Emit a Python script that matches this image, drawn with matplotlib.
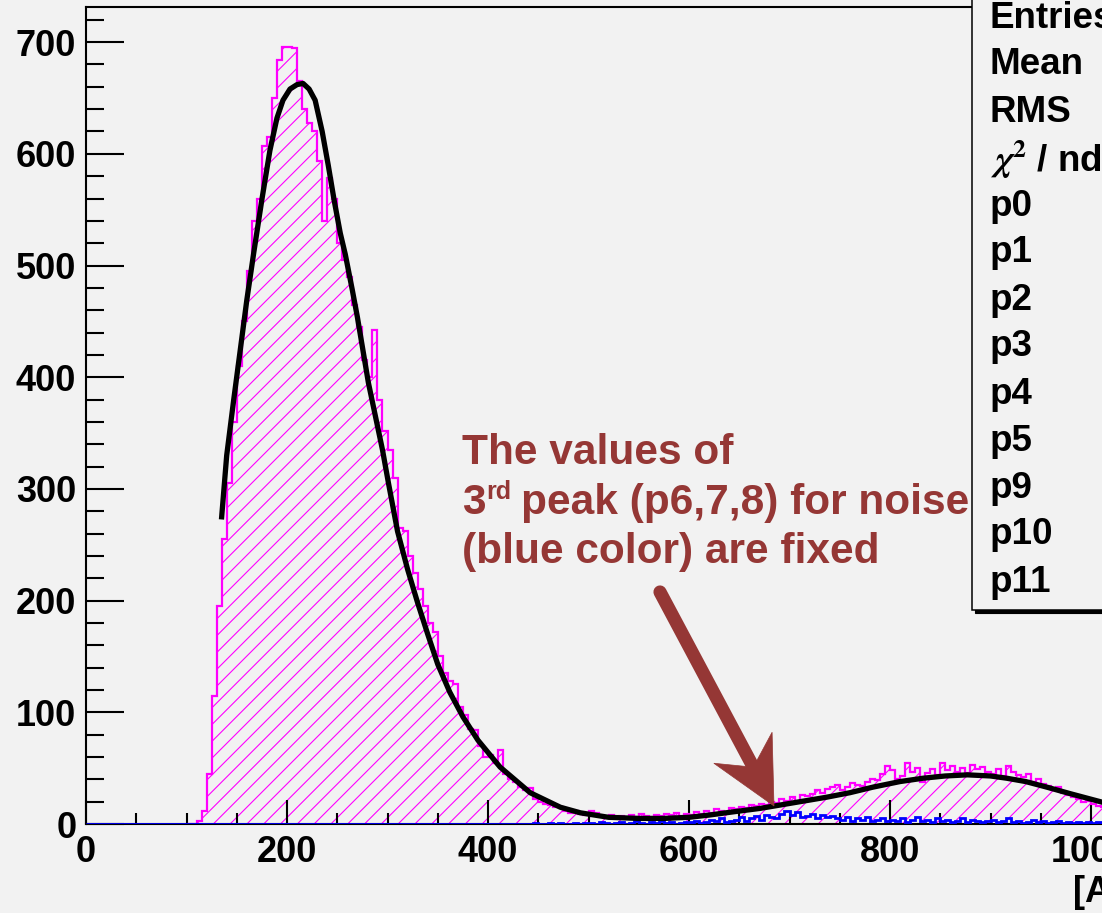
import numpy as np
import matplotlib
matplotlib.use('Agg')
import matplotlib.pyplot as plt
from matplotlib.patches import Rectangle, Polygon
from matplotlib.lines import Line2D
from matplotlib.ticker import MultipleLocator
from matplotlib.transforms import IdentityTransform

# ---- data ----
# signal histogram (magenta), 5 ADC wide bins starting at 100
sig_start = 100
sig_width = 5
sig_counts = [
    0, 0, 3, 12, 45, 115, 195, 255, 305, 360,        # 100-145
    410, 450, 495, 540, 560, 607, 615, 650, 684, 696,  # 150-195
    696, 695, 665, 640, 628, 620, 594, 540, 578, 560,  # 200-245
    520, 505, 490, 465, 445, 415, 400, 442, 380, 352,  # 250-295
    335, 310, 265, 262, 240, 225, 210, 195, 180, 172,  # 300-345
    150, 135, 128, 125, 105, 98, 85, 84, 70, 60,       # 350-395
    62, 55, 66, 45, 40, 38, 33, 30, 32, 22,            # 400-445
    20, 18, 17, 15, 15, 12, 10, 12, 9, 8,              # 450-495
    12, 10, 7, 6, 8, 6, 7, 5, 8, 6,                    # 500-545
    9, 7, 6, 8, 7, 9, 8, 10, 7, 9,                     # 550-595
    8, 11, 9, 12, 10, 13, 12, 11, 14, 13,              # 600-645
    15, 14, 17, 16, 18, 17, 20, 19, 22, 21,            # 650-695
    24, 20, 26, 25, 27, 30, 28, 31, 33, 35,            # 700-745
    30, 33, 37, 35, 34, 38, 40, 39, 45, 52,            # 750-795
    48, 40, 43, 55, 47, 50, 38, 46, 49, 44,            # 800-845
    55, 48, 52, 47, 50, 46, 53, 49, 51, 47,            # 850-895
    45, 49, 43, 52, 47, 44, 42, 45, 38, 40,            # 900-945
    36, 34, 30, 33, 28, 26, 24, 22, 20, 21,            # 950-995
    18, 16, 15, 14,                                    # 1000-1015
]

# noise histogram (blue), 5 ADC wide bins starting at 0
noise_start = 0
noise_width = 5
noise_counts = [0] * 88 + [
    0, 1, 0, 0, 1, 0, 1, 0, 0, 1, 0, 1,                            # 440-495
    1, 0, 2, 1, 0, 1, 2, 0, 1, 3, 1, 0, 2, 1, 3, 1, 2, 0, 1, 2,    # 500-595
    2, 3, 1, 2, 4, 3, 5, 2, 3, 4, 6, 3, 5, 7, 4, 8, 6, 5, 9, 12,   # 600-695
    8, 11, 6, 7, 9, 5, 8, 6, 7, 5, 4, 6, 3, 5, 4, 6, 3, 4, 5, 3,   # 700-795
    4, 3, 5, 2, 4, 6, 3, 4, 2, 5, 3, 4, 2, 3, 5, 2, 4, 3, 2, 3,    # 800-895
    4, 2, 3, 5, 2, 3, 1, 2, 4, 2, 3, 1, 2, 3, 1, 2, 1, 2, 1, 2,    # 900-995
    1, 2, 1, 1, 2, 1, 0, 1, 2, 1, 1, 0, 1, 1, 2, 1, 0, 1, 1, 0,    # 1000-1095
]

# fitted function (black)
fit_x = [135, 140, 147, 153, 160, 167, 175, 183, 190, 196, 203, 210, 216, 222,
         228, 235, 241, 247, 253, 258, 265, 270, 281, 295, 301, 310, 320, 330,
         340, 350, 362, 375, 390, 412, 442, 472, 492, 520, 550, 575, 600, 620,
         645, 671, 704, 737, 760, 783, 810, 833, 855, 877, 900, 916, 935, 956,
         980, 1005, 1030]
fit_y = [275, 330, 380, 421, 469, 512, 559, 603, 632, 648, 658, 662, 663, 658,
         648, 620, 590, 558, 529, 510, 478, 454, 395, 335, 305, 262, 228, 198,
         170, 143, 118, 96, 75, 51, 28, 15, 10, 6, 5, 5, 6, 8,
         11, 14, 19, 24, 28, 33, 38, 41, 43, 44, 43, 41, 38, 33,
         27, 21, 15]

stat_labels = ['Entries', 'Mean', 'RMS', r'$\chi^{2}$ / ndf', 'p0', 'p1', 'p2',
               'p3', 'p4', 'p5', 'p9', 'p10', 'p11']

note_lines = ['The values of', '3', 'rd', 'peak (p6,7,8) for noise',
              '(blue color) are fixed']

# ---- figure ----
plt.rcParams['font.family'] = ['Liberation Sans', 'DejaVu Sans']
plt.rcParams['font.weight'] = 'bold'
plt.rcParams['mathtext.fontset'] = 'stix'

W, H = 1102, 913
bg = '#f2f2f2'
red = '#953735'
mag = '#ff00ff'
fig = plt.figure(figsize=(W / 100, H / 100), dpi=100, facecolor=bg)

# axes run past the right edge of the picture (cropped ROOT canvas)
ax = fig.add_axes([86 / W, 1 - 824 / H, 1105.5 / W, 816.5 / H])
ax.set_facecolor(bg)
ax.set_xlim(0, 1100)
ax.set_ylim(0, 731)

sig_edges = sig_start + sig_width * np.arange(len(sig_counts) + 1)
sig_vals = np.array(sig_counts)
area = ax.fill_between(sig_edges, np.append(sig_vals, sig_vals[-1]), step='post',
                       facecolor='none', edgecolor='none', linewidth=0, zorder=1)
# ROOT style 45 degree hatching, ~17 px apart, clipped to the histogram
hpath = area.get_paths()[0]
for c in np.arange(213.3 - 16.8 * 60, 1200, 16.8):
    hl = Line2D([c, c + 900], [89, 989], transform=IdentityTransform(),
                color=mag, lw=0.8, zorder=1)
    ax.add_line(hl)
    hl.set_clip_path(hpath, ax.transData)
ax.stairs(sig_vals, sig_edges, color=mag, lw=1.6, zorder=2)

noise_edges = noise_start + noise_width * np.arange(len(noise_counts) + 1)
ax.stairs(noise_counts, noise_edges, color='#0000ff', lw=2.0, zorder=3)

ax.plot(fit_x, fit_y, color='black', lw=3.8, zorder=4)

ax.xaxis.set_major_locator(MultipleLocator(200))
ax.xaxis.set_minor_locator(MultipleLocator(50))
ax.yaxis.set_major_locator(MultipleLocator(100))
ax.yaxis.set_minor_locator(MultipleLocator(20))
ax.tick_params(axis='x', which='major', direction='in', length=17, width=1.5,
               pad=8, labelsize=26)
ax.tick_params(axis='x', which='minor', direction='in', length=8, width=1.5)
ax.tick_params(axis='y', which='major', direction='in', length=27, width=1.5,
               pad=7, labelsize=26)
ax.tick_params(axis='y', which='minor', direction='in', length=13, width=1.5)
for s in ax.spines.values():
    s.set_linewidth(1.5)


def fpos(x, y):
    # pixel position (from top left) -> figure fraction
    return x / W, 1 - y / H


# stats box (shadow + box)
bx, by = fpos(972, 610)
fig.add_artist(Rectangle((bx + 3 / W, by - 3 / H), 1, 1, transform=fig.transFigure,
                         facecolor='black', edgecolor='black', lw=0.8, zorder=5))
fig.add_artist(Rectangle((bx, by), 1, 1, transform=fig.transFigure,
                         facecolor=bg, edgecolor='black', lw=1.1, zorder=6))
for i, lab in enumerate(stat_labels):
    fig.text(*fpos(990, 18 + 47 * i), lab, fontsize=26.5, fontweight='bold',
             va='center', ha='left', zorder=7)

# note text
fig.text(*fpos(462, 464), note_lines[0], color=red, fontsize=30.5,
         fontweight='bold', va='baseline')
renderer = fig.canvas.get_renderer()
t3 = fig.text(*fpos(462, 514), note_lines[1], color=red, fontsize=30.5,
              fontweight='bold', va='baseline')
b3 = t3.get_window_extent(renderer)
trd = fig.text((b3.x1 + 1) / W, 1 - 499 / H, note_lines[2], color=red,
               fontsize=18, fontweight='bold', va='baseline')
brd = trd.get_window_extent(renderer)
fig.text((brd.x1 + 9) / W, 1 - 514 / H, note_lines[3], color=red, fontsize=30.5,
         fontweight='bold', va='baseline')
fig.text(*fpos(462, 563), note_lines[4], color=red, fontsize=30.5,
         fontweight='bold', va='baseline')

# arrow (stealth head), built in pixel space
start = np.array([660.0, 592.0])
tip = np.array([774.0, 806.0])
d = (tip - start) / np.linalg.norm(tip - start)
n = np.array([-d[1], d[0]])
head_len, half_w, notch = 66, 33, 44
neck = tip - d * notch
fig.add_artist(Line2D([start[0] / W, (neck[0] + d[0] * 4) / W],
                      [1 - start[1] / H, 1 - (neck[1] + d[1] * 4) / H],
                      transform=fig.transFigure, color=red, lw=9.5,
                      solid_capstyle='round', zorder=8))
head = [tip, tip - d * head_len + n * half_w, neck, tip - d * head_len - n * half_w]
fig.add_artist(Polygon([fpos(*p) for p in head], closed=True,
                       transform=fig.transFigure, facecolor=red,
                       edgecolor=red, lw=0.5, zorder=8))

# x axis title (cut by the crop)
fig.text(*fpos(1073, 902), '[ADC]', fontsize=26, fontweight='bold',
         va='baseline', ha='left')

fig.savefig('out.png', dpi=100, facecolor=bg)
